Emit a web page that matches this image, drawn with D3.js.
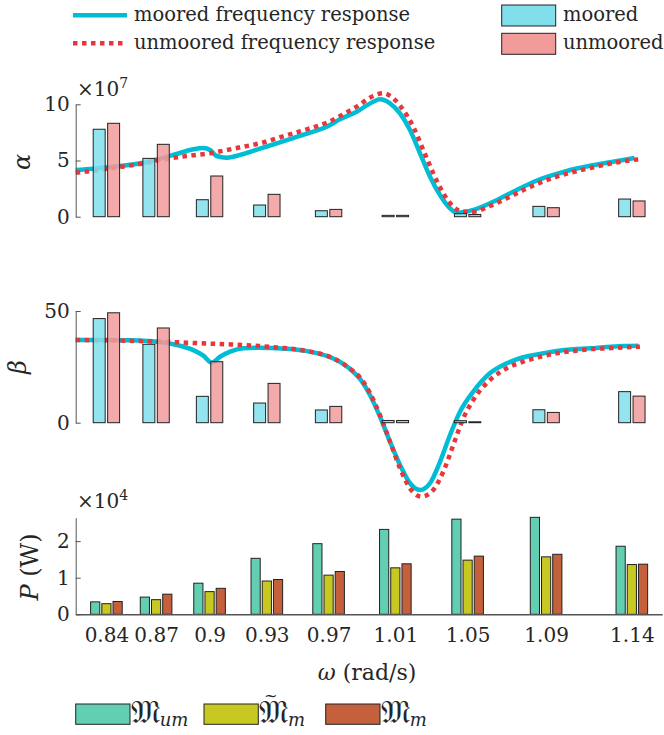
<!DOCTYPE html>
<html>
<head>
<meta charset="utf-8">
<script src="https://cdn.jsdelivr.net/npm/d3@7"></script>
<style>
body { margin: 0; background: #fff; }
</style>
</head>
<body>
<svg id="chart" width="664" height="735"></svg>
<script>
// categories (wave frequency, rad/s) and their tick labels
const omega = [0.8378, 0.8666, 0.8976, 0.9308, 0.9666, 1.0053, 1.0472, 1.0927, 1.1424];
const omegaLabels = ["0.84", "0.87", "0.9", "0.93", "0.97", "1.01", "1.05", "1.09", "1.14"];

// bar values
const alphaMoored   = [7.78, 5.19, 1.51, 1.04, 0.53, 0.12, 0.27, 0.92, 1.57];   // x10^7
const alphaUnmoored = [8.31, 6.44, 3.62, 1.99, 0.65, 0.12, 0.20, 0.80, 1.40];
const betaMoored    = [46.6, 35.1, 11.8, 8.8, 5.7, 1.0, 0.9, 5.8, 13.9];
const betaUnmoored  = [49.2, 42.4, 27.3, 17.6, 7.3, 1.0, 0.4, 4.6, 11.9];
const powerUm       = [0.34, 0.47, 0.85, 1.53, 1.93, 2.32, 2.60, 2.65, 1.86];  // x10^4 W
const powerMTilde   = [0.29, 0.40, 0.62, 0.91, 1.07, 1.27, 1.48, 1.57, 1.36];
const powerM        = [0.35, 0.55, 0.71, 0.95, 1.17, 1.38, 1.59, 1.64, 1.37];

// frequency response curves [omega, value]
const alphaMooredCurve = [[0.8200,4.15],[0.8302,4.27],[0.8399,4.42],[0.8496,4.57],[0.8592,4.80],[0.8689,5.16],
  [0.8786,5.58],[0.8882,6.00],[0.8940,6.11],[0.8979,5.93],[0.9017,5.40],[0.9075,5.25],[0.9172,5.58],[0.9268,6.05],
  [0.9365,6.53],[0.9461,7.00],[0.9558,7.47],[0.9655,8.00],[0.9732,8.67],[0.9829,9.34],[0.9925,10.23],[0.9964,10.44],
  [1.0022,10.09],[1.0080,9.20],[1.0138,7.71],[1.0196,5.64],[1.0254,3.56],[1.0312,1.93],[1.0370,0.75],[1.0409,0.36],
  [1.0505,0.60],[1.0601,1.19],[1.0699,1.93],[1.0795,2.67],[1.0892,3.33],[1.0988,3.80],[1.1085,4.22],[1.1182,4.54],
  [1.1278,4.80],[1.1374,5.04],[1.1440,5.22]];
const alphaUnmooredCurve = [[0.8200,3.91],[0.8302,4.09],[0.8399,4.30],[0.8496,4.51],[0.8592,4.75],[0.8689,5.04],
  [0.8786,5.28],[0.8882,5.46],[0.8979,5.64],[0.9075,5.93],[0.9172,6.23],[0.9268,6.53],[0.9365,6.97],[0.9461,7.42],
  [0.9558,7.86],[0.9655,8.36],[0.9745,9.05],[0.9829,9.79],[0.9925,10.74],[0.9983,10.98],[1.0041,10.53],[1.0099,9.49],
  [1.0157,8.00],[1.0215,5.93],[1.0273,3.86],[1.0331,2.08],[1.0389,0.89],[1.0447,0.44],[1.0505,0.44],[1.0601,0.95],
  [1.0699,1.64],[1.0795,2.37],[1.0892,3.02],[1.0988,3.56],[1.1085,3.98],[1.1182,4.33],[1.1278,4.66],[1.1374,4.93],
  [1.1461,5.10]];
const betaMooredCurve = [[0.8200,37.0],[0.8302,37.0],[0.8399,37.0],[0.8496,36.9],[0.8592,36.7],[0.8689,36.1],
  [0.8786,34.8],[0.8882,32.5],[0.8940,30.0],[0.8988,26.9],[0.9037,29.5],[0.9095,31.8],[0.9172,33.3],[0.9268,33.6],
  [0.9365,33.3],[0.9461,32.9],[0.9558,31.8],[0.9655,29.9],[0.9751,26.3],[0.9809,22.8],[0.9848,19.6],[0.9906,12.4],
  [0.9964,2.7],[1.0022,-8.5],[1.0080,-18.9],[1.0138,-27.1],[1.0196,-30.1],[1.0254,-27.1],[1.0312,-17.5],[1.0370,-5.5],
  [1.0428,4.9],[1.0505,13.9],[1.0601,22.1],[1.0699,26.6],[1.0795,29.3],[1.0892,30.8],[1.0988,32.1],[1.1085,32.9],
  [1.1182,33.3],[1.1278,33.9],[1.1374,34.3],[1.1461,34.5]];
const betaUnmooredCurve = [[0.8200,37.0],[0.8496,36.7],[0.8592,36.5],[0.8689,36.3],[0.8786,36.0],[0.8882,35.7],
  [0.8979,35.4],[0.9075,35.1],[0.9172,34.8],[0.9268,34.3],[0.9365,33.7],[0.9461,33.0],[0.9558,31.8],[0.9655,30.0],
  [0.9751,26.3],[0.9809,23.0],[0.9848,20.3],[0.9906,13.2],[0.9964,3.4],[1.0022,-8.5],[1.0080,-20.4],[1.0138,-29.4],
  [1.0206,-33.1],[1.0273,-30.1],[1.0331,-21.9],[1.0389,-10.0],[1.0447,2.0],[1.0505,10.2],[1.0601,19.1],[1.0699,24.4],
  [1.0795,27.3],[1.0892,29.5],[1.0988,31.1],[1.1085,32.1],[1.1182,32.9],[1.1278,33.3],[1.1374,33.7],[1.1471,34.0]];

const colors = {
    mooredLine: "#00bdd6", unmooredLine: "#e8363b",
    moored: "#80dfeb", unmoored: "#f29b9b",
    um: "#62cfb3", mTilde: "#c8c823", m: "#c4603c"
};
const font = "DejaVu Serif";
const ink = "#262626";

const svg = d3.select("#chart")
    .attr("font-family", font)
    .attr("fill", ink);
const left = 75.7;

const x = d3.scaleLinear().domain([0.82, 1.16]).range([left, 662.2]);
const yA = d3.scaleLinear().domain([0, 10]).range([216.7, 104.3]);
const yB = d3.scaleLinear().domain([0, 50]).range([422.7, 311]);
const yP = d3.scaleLinear().domain([0, 2.64]).range([614.3, 517.7]);

const pair = d3.scaleBand().domain(["moored", "unmoored"]).range([-13.2, 13.2]).paddingInner(0.17);
const triple = d3.scaleBand().domain(["um", "mTilde", "m"]).range([-15.8, 15.8]).paddingInner(0.18);

function yAxis(scale, ticks) {
    const g = svg.append("g")
        .attr("transform", "translate(" + left + ",0)")
        .call(d3.axisLeft(scale).tickValues(ticks).tickFormat(d3.format("d"))
            .tickSize(-5).tickSizeOuter(0).tickPadding(6));
    g.attr("font-size", 20).attr("font-family", font);
    g.selectAll("path, line").attr("stroke", "#555");
    g.selectAll("text").attr("fill", ink);
    return g;
}

function drawCurve(data, scale, color, dashed) {
    const line = d3.line()
        .x(d => x(d[0]))
        .y(d => scale(d[1]))
        .curve(d3.curveMonotoneX);
    svg.append("path")
        .datum(data)
        .attr("d", line)
        .attr("fill", "none")
        .attr("stroke", color)
        .attr("stroke-width", 4.5)
        .attr("stroke-dasharray", dashed ? "4.5,4.5" : null);
}

function drawPairBars(moored, unmoored, scale) {
    const groups = svg.append("g").selectAll("g")
        .data(omega)
        .join("g")
        .attr("transform", d => "translate(" + x(d) + ",0)");
    groups.selectAll("rect")
        .data((d, i) => [{k: "moored", v: moored[i]}, {k: "unmoored", v: unmoored[i]}])
        .join("rect")
        .attr("x", d => pair(d.k))
        .attr("width", pair.bandwidth())
        .attr("y", d => scale(d.v))
        .attr("height", d => scale(0) - scale(d.v))
        .attr("fill", d => colors[d.k])
        .attr("fill-opacity", 0.85)
        .attr("stroke", "#222")
        .attr("stroke-width", 1);
}

// alpha panel
drawCurve(alphaMooredCurve, yA, colors.mooredLine, false);
drawCurve(alphaUnmooredCurve, yA, colors.unmooredLine, true);
drawPairBars(alphaMoored, alphaUnmoored, yA);
yAxis(yA, [0, 5, 10]);

// beta panel
drawCurve(betaMooredCurve, yB, colors.mooredLine, false);
drawCurve(betaUnmooredCurve, yB, colors.unmooredLine, true);
drawPairBars(betaMoored, betaUnmoored, yB);
yAxis(yB, [0, 50]);

// power panel
const pGroups = svg.append("g").selectAll("g")
    .data(omega)
    .join("g")
    .attr("transform", d => "translate(" + x(d) + ",0)");
pGroups.selectAll("rect")
    .data((d, i) => [{k: "um", v: powerUm[i]}, {k: "mTilde", v: powerMTilde[i]}, {k: "m", v: powerM[i]}])
    .join("rect")
    .attr("x", d => triple(d.k))
    .attr("width", triple.bandwidth())
    .attr("y", d => yP(d.v))
    .attr("height", d => yP(0) - yP(d.v))
    .attr("fill", d => colors[d.k])
    .attr("stroke", "#222")
    .attr("stroke-width", 1);

yAxis(yP, [0, 1, 2]);

const xAx = svg.append("g")
    .attr("transform", "translate(0," + yP(0) + ")")
    .call(d3.axisBottom(x).tickValues(omega).tickFormat((d, i) => omegaLabels[i])
        .tickSize(0).tickSizeOuter(0).tickPadding(14));
xAx.attr("font-size", 20).attr("font-family", font);
xAx.selectAll("text").attr("fill", ink);
xAx.select(".domain").attr("stroke", "#555").attr("stroke-width", 1.6);

// exponent labels
function multiplier(px, py, exp) {
    const t = svg.append("text").attr("x", px).attr("y", py).attr("font-size", 20).text("×10");
    t.append("tspan").attr("font-size", 14).attr("dy", -8).text(exp);
}
multiplier(77, 96, "7");
multiplier(77, 508, "4");

// axis titles
function yTitle(px, py) {
    return svg.append("text")
        .attr("transform", "translate(" + px + "," + py + ") rotate(-90)")
        .attr("text-anchor", "middle")
        .attr("font-size", 24);
}
yTitle(30, 162).append("tspan").attr("font-style", "italic").text("α");
yTitle(26, 367).append("tspan").attr("font-style", "italic").text("β");
const pt = yTitle(38, 567);
pt.append("tspan").attr("font-style", "italic").text("P");
pt.append("tspan").text(" (W)");

const xt = svg.append("text").attr("x", 367).attr("y", 680).attr("text-anchor", "middle").attr("font-size", 22);
xt.append("tspan").attr("font-style", "italic").text("ω");
xt.append("tspan").text(" (rad/s)");

// top-left legend (curves)
const lineLegend = [
    {label: "moored frequency response", color: colors.mooredLine, dashed: false, y: 15.3},
    {label: "unmoored frequency response", color: colors.unmooredLine, dashed: true, y: 43.3}
];
lineLegend.forEach(d => {
    svg.append("line").attr("x1", 73).attr("x2", 127).attr("y1", d.y).attr("y2", d.y)
        .attr("stroke", d.color).attr("stroke-width", 4.5)
        .attr("stroke-dasharray", d.dashed ? "4.5,4.5" : null);
    svg.append("text").attr("x", 134).attr("y", d.y + 6).attr("font-size", 19.5).text(d.label);
});

// top-right legend (bars)
const barLegend = [
    {label: "moored", color: colors.moored, y: 5},
    {label: "unmoored", color: colors.unmoored, y: 33.3}
];
barLegend.forEach(d => {
    svg.append("rect").attr("x", 501.7).attr("y", d.y).attr("width", 54).attr("height", 21)
        .attr("fill", d.color).attr("stroke", "#222").attr("stroke-width", 1);
    svg.append("text").attr("x", 563).attr("y", d.y + 16).attr("font-size", 19.5).text(d.label);
});

// bottom legend (power)
const powerLegend = [
    {color: colors.um, sub: "um", tilde: false, x: 75.7},
    {color: colors.mTilde, sub: "m", tilde: true, x: 204},
    {color: colors.m, sub: "m", tilde: false, x: 325.7}
];
powerLegend.forEach(d => {
    svg.append("rect").attr("x", d.x).attr("y", 704).attr("width", 54.3).attr("height", 20.3)
        .attr("fill", d.color).attr("stroke", "#222").attr("stroke-width", 1);
    const t = svg.append("text").attr("x", d.x + 55).attr("y", 723).attr("font-size", 32);
    t.append("tspan").text("𝔐");
    t.append("tspan").attr("font-style", "italic").attr("font-size", 18).attr("dy", 3).text(d.sub);
    if (d.tilde) {
        // accent over the middle symbol
        t.append("tspan").attr("x", d.x + 60).attr("y", 701).attr("font-size", 16).text("~");
    }
});
</script>
</body>
</html>
